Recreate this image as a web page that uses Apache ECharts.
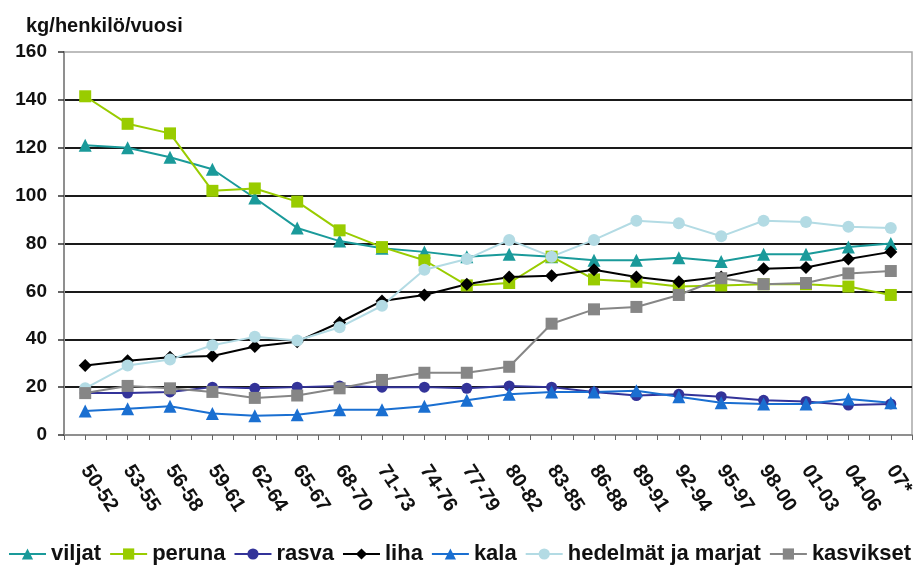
<!DOCTYPE html>
<html>
<head>
<meta charset="utf-8">
<script src="https://cdn.jsdelivr.net/npm/echarts@6/dist/echarts.min.js"></script>
<style>
  html, body { margin: 0; padding: 0; background: #fff; }
  #chart { width: 924px; height: 566px; }
</style>
</head>
<body>
<div id="chart"></div>
<script>
// Kulutus kg/henkilö/vuosi, kolmen vuoden jaksoittain
const categories = ['50-52','53-55','56-58','59-61','62-64','65-67','68-70','71-73','74-76','77-79',
                    '80-82','83-85','86-88','89-91','92-94','95-97','98-00','01-03','04-06','07*'];
const viljat    = [121, 120, 116, 111, 99, 86.5, 81, 78, 76.5, 74.5, 75.5, 74.5, 73, 73, 74, 72.5, 75.5, 75.5, 78.5, 80];
const peruna    = [141.5, 130, 126, 102, 103, 97.5, 85.5, 78.5, 73, 62.5, 63.5, 74.5, 65, 64, 62, 62.5, 63, 63, 62, 58.5];
const rasva     = [17.5, 17.5, 18, 20, 19.5, 20, 20.5, 20, 20, 19.5, 20.5, 20, 18, 16.5, 17, 16, 14.5, 14, 12.5, 13];
const liha      = [29, 31, 32.5, 33, 37, 39, 47, 56, 58.5, 63, 66, 66.5, 69, 66, 64, 66, 69.5, 70, 73.5, 76.5];
const kala      = [10, 11, 12, 9, 8, 8.5, 10.5, 10.5, 12, 14.5, 17, 18, 18, 18.5, 16, 13.5, 13, 13, 15, 13.5];
const hedelmat  = [19.5, 29, 31.5, 37.5, 41, 39.5, 45, 54, 69, 73.5, 81.5, 74.5, 81.5, 89.5, 88.5, 83, 89.5, 89, 87, 86.5];
const kasvikset = [17.5, 20.5, 19.5, 18, 15.5, 16.5, 19.5, 23, 26, 26, 28.5, 46.5, 52.5, 53.5, 58.5, 65.5, 63, 63.5, 67.5, 68.5];
const yTicks = { min: 0, max: 160, interval: 20 };

const FONT = '"Liberation Sans", Arial, sans-serif';

function line(name, data, color, symbol, size) {
  return {
    name, type: 'line', data,
    symbol, symbolSize: size,
    showSymbol: true,
    lineStyle: { color, width: 2 },
    itemStyle: { color, borderWidth: 0 },
    emphasis: { disabled: true },
    animation: false
  };
}

const chart = echarts.init(document.getElementById('chart'), null, { renderer: 'canvas' });
chart.setOption({
  backgroundColor: '#fff',
  animation: false,
  title: {
    text: 'kg/henkilö/vuosi',
    left: 21, top: 11,
    textStyle: { fontFamily: FONT, fontSize: 20, fontWeight: 'bold', color: '#111' }
  },
  grid: {
    left: 64, right: 12, top: 52, bottom: 131,
    show: true, borderColor: '#a8a8a8', borderWidth: 1.5
  },
  legend: {
    left: 8, top: 543, padding: 0,
    width: 916,
    itemWidth: 37, itemHeight: 14, itemGap: 8,
    textStyle: { fontFamily: FONT, fontSize: 22, fontWeight: 'bold', color: '#111' },
    data: ['viljat', 'peruna', 'rasva', 'liha', 'kala', 'hedelmät ja marjat', 'kasvikset']
  },
  xAxis: [
    {
      type: 'category', data: categories, boundaryGap: true,
      axisLine: { lineStyle: { color: '#8f8f8f', width: 2 } },
      axisTick: { show: true, length: 5, lineStyle: { color: '#666', width: 1 } },
      axisLabel: {
        interval: 0, rotate: -57, margin: 32,
        fontFamily: FONT, fontSize: 20, fontWeight: 'bold', color: '#111'
      }
    },
    {
      type: 'category', data: categories, boundaryGap: true, position: 'bottom',
      axisLine: { show: false },
      axisTick: { show: true, alignWithLabel: true, interval: 0, length: 5, lineStyle: { color: '#666', width: 1 } },
      axisLabel: { show: false },
      splitLine: { show: false }
    }
  ],
  yAxis: {
    type: 'value', min: yTicks.min, max: yTicks.max, interval: yTicks.interval,
    axisLine: { show: true, lineStyle: { color: '#8f8f8f', width: 2 } },
    axisTick: { show: true, length: 6, lineStyle: { color: '#333', width: 1.5 } },
    axisLabel: { margin: 17, fontFamily: FONT, fontSize: 19, fontWeight: 'bold', color: '#111' },
    splitLine: { show: true, showMinLine: false, showMaxLine: false, lineStyle: { color: '#1a1a1a', width: 2 } }
  },
  series: [
    line('viljat', viljat, '#1a9a9a', 'triangle', 13),
    line('peruna', peruna, '#99cc00', 'rect', 12),
    line('rasva', rasva, '#333399', 'circle', 11),
    line('liha', liha, '#000000', 'diamond', 13),
    line('kala', kala, '#1a6fd1', 'triangle', 13),
    line('hedelmät ja marjat', hedelmat, '#b3dbe4', 'circle', 12),
    line('kasvikset', kasvikset, '#868686', 'rect', 12)
  ]
});
</script>
</body>
</html>
